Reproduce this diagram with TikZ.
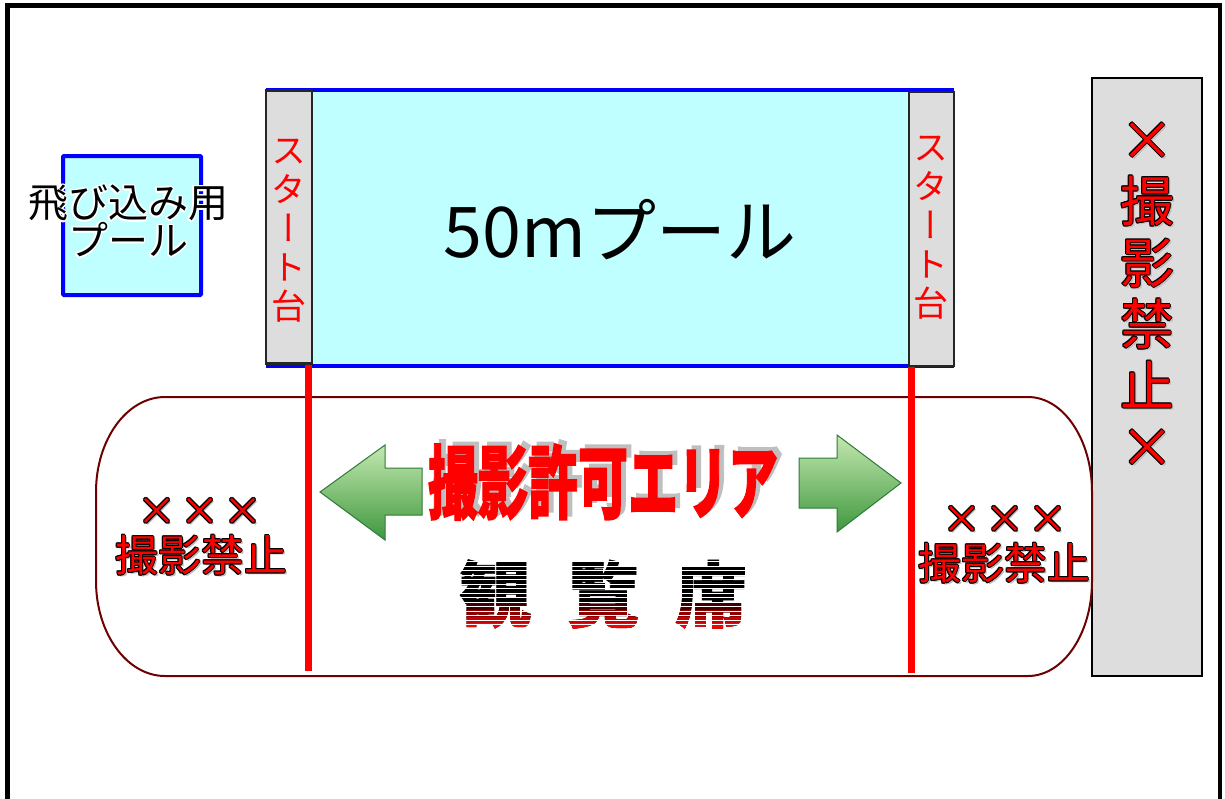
\documentclass[tikz,border=0pt]{standalone}
\usepackage{graphicx}
\usepackage{fontspec}
\setmainfont{Noto Sans CJK JP}
\newfontfamily\vjp[RawFeature=+vert]{Noto Sans CJK JP}
\newfontfamily\heavyjp[BoldFeatures={FakeBold=1.8},FakeBold=1.8]{Noto Sans CJK JP}
\newfontfamily\seatjp[BoldFeatures={FakeBold=1},FakeBold=1]{Noto Sans CJK JP}
\definecolor{poolcyan}{HTML}{C0FFFF}
\definecolor{blockgray}{HTML}{DDDDDD}
\definecolor{seatred}{HTML}{6E0000}
\definecolor{arrtop}{HTML}{C4E8B0}
\definecolor{arrbot}{HTML}{3E983E}
\definecolor{arredge}{HTML}{2F7A3A}
\newcommand\outlinetext[4]{%
  \node[#3,text=black!25] at ([shift={(2pt,-2pt)}]#2) {#4};
  \foreach \ang in {0,45,...,315}{\node[#3,text=black] at ([shift={(\ang:1pt)}]#2) {#4};}
  \node[#3,text=red] (#1) at (#2) {#4};}
\begin{document}
\begin{tikzpicture}[x=1pt,y=-1pt,
  blockbox/.style={draw=black!85,line width=2.5,fill=blockgray},
  pooledge/.style={draw=blue,line width=4},
  redline/.style={red,line width=7},
  arrowbody/.style={draw=arredge,line width=1,top color=arrtop,bottom color=arrbot},
  starttext/.style={text=red,align=center,inner sep=0,font=\vjp\fontsize{35}{39}\selectfont},
  bigx/.style={inner sep=0,font=\fontsize{39}{39}\selectfont},
  seatfont/.style={inner sep=0,font=\seatjp\bfseries\fontsize{72}{72}\selectfont},
  ]
\useasboundingbox (0,0) rectangle (1225,798);
% outer frame
\draw[line width=4.5] (7.5,805) -- (7.5,5.5) -- (1220,5.5) -- (1220,805);
% main pool
\fill[poolcyan] (266,90) rectangle (954,366);
\draw[pooledge] (266,90) -- (954,90);
\draw[pooledge] (266,366) -- (954,366);
\node[blockbox,minimum width=46,minimum height=273,inner sep=0] (sbL) at (289,227) {};
\node[blockbox,minimum width=45,minimum height=274,inner sep=0] (sbR) at (931.5,229) {};
\node[starttext] (stL) at (289,231) {ス\\タ\\ー\\ト\\台};
\node[starttext] (stR) at (931,228) {ス\\タ\\ー\\ト\\台};
\node[inner sep=0,font=\fontsize{70}{70}\selectfont] (pool) at (620,230) {50mプール};
% diving pool
\node[draw=blue,line width=4,fill=poolcyan,minimum width=138,minimum height=139,inner sep=0,rounded corners=1] (dive) at (132,225.5) {};
\foreach \ang in {0,30,...,330}{
  \node[text=white,align=center,inner sep=0,font=\fontsize{40}{36}\selectfont] at ([shift={(\ang:1.6pt)}]128,221) {飛び込み用\\プール};}
\node[align=center,inner sep=0,font=\fontsize{40}{36}\selectfont] (divetext) at (128,221) {飛び込み用\\プール};
% right no-photo box
\node[draw=black,line width=2,fill=blockgray,minimum width=110,minimum height=598,inner sep=0] (nobox) at (1147,377) {};
\outlinetext{notext}{1147,295}{align=center,inner sep=0,font=\fontsize{54}{61.5}\selectfont}{×\\撮\\影\\禁\\止\\×}
% seating area
\draw[seatred,line width=2] (165,397) -- (1028,397)
  arc[start angle=-90,end angle=0,x radius=64,y radius=95] -- (1092,581)
  arc[start angle=0,end angle=90,x radius=64,y radius=95] -- (165,676)
  arc[start angle=90,end angle=180,x radius=69,y radius=95] -- (96,492)
  arc[start angle=180,end angle=270,x radius=69,y radius=95] -- cycle;
% red boundary lines
\coordinate (rl1) at (308,671);
\coordinate (rl2) at (911,673);
\draw[redline] (sbL.south -| rl1) -- (rl1);
\draw[redline] (sbR.south -| rl2) -- (rl2);
% arrows
\draw[arrowbody] (320,492) -- (385,445) -- (385,468) -- (422,468) -- (422,515) -- (385,515) -- (385,540) -- cycle;
\draw[arrowbody] (901,483) -- (837,435) -- (837,458) -- (799,458) -- (799,508) -- (837,508) -- (837,532) -- cycle;
% photo permitted area
\node[inner sep=0,text=black!25,font=\heavyjp\bfseries\fontsize{50}{50}\selectfont] at (608,478) {\scalebox{1}[1.6]{撮影許可エリア}};
\node[inner sep=0,text=red,font=\heavyjp\bfseries\fontsize{50}{50}\selectfont] (permit) at (603,482) {\scalebox{1}[1.6]{撮影許可エリア}};
% seating label with gradient and stripes
\node[seatfont] (seat) at (603,594) {観\hspace{0.5em}覧\hspace{0.5em}席};
\foreach \ya/\yb/\cc in {603/610/red!25!black,610/617/red!55!black,617/623/red!80!black,623/645/red}{
  \begin{scope}
    \clip (440,\ya) rectangle (770,\yb);
    \node[seatfont,text=\cc] at (603,594) {観\hspace{0.5em}覧\hspace{0.5em}席};
  \end{scope}}
\foreach \yy in {557,561.5,...,636}{\draw[white,line width=0.9] (440,\yy) -- (770,\yy);}
% no photo labels
\foreach \xx/\nm in {157/a,200/b,243/c}{\outlinetext{lx\nm}{\xx,512}{bigx}{×}}
\outlinetext{noL}{201,555}{inner sep=0,font=\fontsize{43}{43}\selectfont}{撮影禁止}
\foreach \xx/\nm in {962/a,1005/b,1048/c}{\outlinetext{rx\nm}{\xx,520}{bigx}{×}}
\outlinetext{noR}{1004,563}{inner sep=0,font=\fontsize{43}{43}\selectfont}{撮影禁止}
\end{tikzpicture}
\end{document}
